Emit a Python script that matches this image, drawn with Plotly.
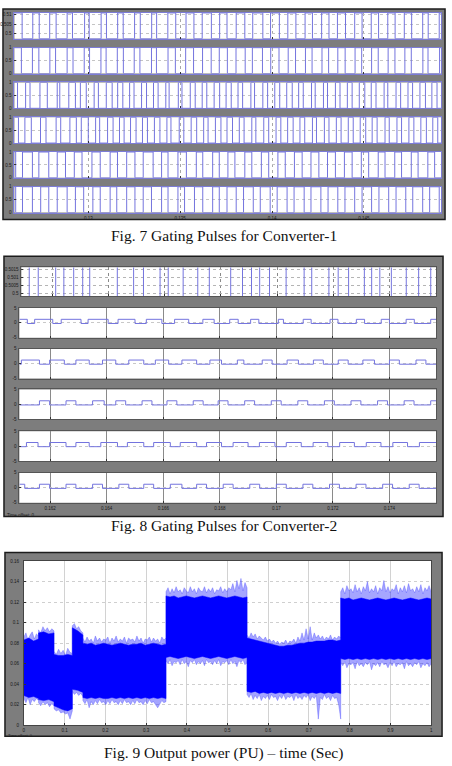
import plotly.graph_objects as go

W, H = 452, 766

# ---------------- Fig. 7 : switching-edge times (ms) of six gating signals ----------------
F7_CH1 = [126.40, 126.98, 127.33, 127.90, 128.25, 128.85, 129.14, 129.80, 130.05, 130.70,
          130.99, 131.60, 131.90, 132.52, 132.83, 133.45, 133.72, 134.33, 134.76, 135.32,
          135.75, 136.20, 136.70, 137.15, 137.55, 138.05, 138.52, 138.95, 139.50, 139.92,
          140.40, 140.86, 141.30, 141.80, 142.20, 142.70, 143.10, 143.56, 144.00, 144.50,
          144.90, 145.40, 145.80, 146.30, 146.70, 147.20, 147.60, 148.20, 148.50, 149.10]
F7_CH2 = [126.36, 126.96, 127.31, 127.91, 128.22, 128.85, 129.17, 129.78, 130.07, 130.69,
          130.97, 131.58, 131.91, 132.50, 132.81, 133.44, 133.71, 134.34, 134.74, 135.30,
          135.73, 136.22, 136.69, 137.13, 137.57, 138.04, 138.54, 138.93, 139.48, 139.93,
          140.38, 140.88, 141.28, 141.82, 142.18, 142.72, 143.08, 143.58, 143.98, 144.52,
          144.88, 145.42, 145.78, 146.32, 146.69, 147.23, 147.58, 148.21, 148.49, 149.12]
F7_CH3 = [126.15, 126.59, 126.83, 127.37, 127.77, 128.31, 128.45, 128.94, 129.30, 129.57,
          129.89, 130.32, 130.55, 130.98, 131.30, 131.60, 131.88, 132.25, 132.49, 132.90,
          133.17, 133.55, 133.80, 134.22, 134.40, 134.90, 135.10, 135.55, 135.82, 136.20,
          136.45, 136.85, 137.15, 137.50, 137.78, 138.15, 138.40, 138.85, 139.05, 139.50,
          139.76, 140.15, 140.42, 140.80, 141.10, 141.45, 141.70, 142.15, 142.35, 142.80,
          143.02, 143.45, 143.70, 144.10, 144.36, 144.75, 145.05, 145.40, 145.66, 146.10,
          146.30, 146.75, 147.00, 147.40, 147.65, 148.05, 148.35, 148.70, 148.98]
F7_CH4 = [126.20, 126.55, 126.90, 127.40, 127.70, 128.25, 128.50, 129.00, 129.35, 129.62,
          130.00, 130.40, 130.62, 131.05, 131.35, 131.70, 131.95, 132.30, 132.60, 132.95,
          133.22, 133.60, 133.90, 134.28, 134.50, 134.95, 135.20, 135.60, 135.90, 136.28,
          136.52, 136.92, 137.22, 137.55, 137.85, 138.22, 138.48, 138.90, 139.12, 139.55,
          139.82, 140.22, 140.48, 140.85, 141.15, 141.52, 141.78, 142.20, 142.42, 142.85,
          143.10, 143.50, 143.76, 144.15, 144.42, 144.80, 145.10, 145.45, 145.72, 146.15,
          146.38, 146.80, 147.05, 147.45, 147.72, 148.10, 148.40, 148.75, 149.02]
F7_CH5 = [126.05, 126.42, 126.96, 127.31, 127.85, 128.31, 128.76, 129.24, 129.66, 130.20,
          130.65, 131.19, 131.59, 132.09, 132.54, 132.99, 133.53, 133.99, 134.34, 134.88,
          135.34, 135.88, 136.23, 136.77, 137.13, 137.60, 137.98, 138.52, 138.90, 139.42,
          139.82, 140.32, 140.72, 141.22, 141.64, 142.12, 142.55, 143.02, 143.45, 143.94,
          144.36, 144.86, 145.26, 145.78, 146.15, 146.68, 147.05, 147.58, 147.95, 148.48, 148.85]
F7_CH6 = [126.05, 126.42, 126.96, 127.41, 127.85, 128.31, 128.85, 129.30, 129.75, 130.25,
          130.65, 131.19, 131.55, 132.09, 132.54, 132.99, 133.44, 133.99, 134.34, 134.88,
          135.24, 135.78, 136.23, 136.77, 137.13, 137.55, 138.05, 138.45, 138.98, 139.36,
          139.90, 140.28, 140.82, 141.20, 141.75, 142.12, 142.66, 143.05, 143.58, 143.97,
          144.50, 144.90, 145.42, 145.82, 146.35, 146.75, 147.28, 147.66, 148.20, 148.58, 149.10]
F7_XTICKS = [0.13, 0.135, 0.14, 0.145]
F7_XTICKTEXT = ["0.13", "0.135", "0.14", "0.145"]
F7_XRANGE = [0.12598, 0.14920]

# ---------------- Fig. 8 ----------------
F8_GLITCH_MS = [161.19, 161.51, 162.13, 162.42, 162.77, 163.09, 163.34, 164.32, 164.90, 165.25,
                165.84, 166.13, 166.66, 167.18, 167.59, 168.35, 168.77, 169.09, 169.38, 169.73,
                170.32, 170.96, 171.23, 171.84, 172.17, 172.54, 173.10, 173.36, 173.65, 174.06,
                174.59, 175.03, 175.46]
# (edges in ms; first level given by F8_START_HIGH)
F8_CH2 = [161.19, 161.45, 162.09, 162.39, 163.09, 163.34, 164.05, 164.40, 165.00, 165.40,
          165.95, 166.40, 166.90, 167.40, 167.80, 168.35, 168.65, 169.09, 169.38, 170.07,
          170.25, 170.95, 171.23, 171.90, 172.18, 172.83, 173.12, 173.71, 174.00, 174.59,
          174.88, 175.46]
F8_CH3 = [160.98, 161.62, 161.98, 162.50, 162.91, 163.38, 163.85, 164.32, 164.78, 165.31,
          165.72, 166.19, 166.66, 167.18, 167.65, 168.06, 168.62, 168.85, 169.50, 169.85,
          170.38, 170.78, 171.31, 171.66, 172.19, 172.54, 173.06, 173.47, 174.00, 174.35,
          174.94, 175.29]
F8_CH4 = [161.62, 161.98, 162.56, 162.91, 163.50, 163.91, 164.32, 164.67, 165.25, 165.60,
          166.13, 166.48, 167.06, 167.41, 167.94, 168.29, 168.88, 169.23, 169.82, 170.17,
          170.76, 171.11, 171.70, 172.05, 172.64, 172.99, 173.58, 173.93, 174.52, 174.87, 175.46]
F8_CH5 = [161.16, 161.57, 161.98, 162.56, 162.91, 163.38, 163.79, 164.38, 164.73, 165.31,
          165.66, 166.25, 166.60, 167.18, 167.53, 168.06, 168.47, 169.00, 169.40, 169.95,
          170.35, 170.88, 171.30, 171.82, 172.24, 172.76, 173.18, 173.70, 174.12, 174.64, 175.06]
F8_CH6 = [161.10, 161.62, 161.98, 162.56, 162.91, 163.50, 163.85, 164.43, 164.78, 165.31,
          165.66, 166.25, 166.66, 167.18, 167.53, 168.12, 168.47, 169.06, 169.41, 170.00,
          170.35, 170.94, 171.29, 171.88, 172.23, 172.82, 173.17, 173.76, 174.11, 174.70, 175.05]
F8_START_HIGH = [True, False, False, False, True]
F8_LEVELS = [-0.2, 1.2]
F8_XTICKS = [0.162, 0.164, 0.166, 0.168, 0.17, 0.172, 0.174]
F8_XTICKTEXT = ["0.162", "0.164", "0.166", "0.168", "0.17", "0.172", "0.174"]
F8_XRANGE = [0.16091, 0.17565]

# ---------------- Fig. 9 : output power band (segments) ----------------
F9_BREAKS = [0.0, 0.036, 0.074, 0.119, 0.145, 0.349, 0.548, 0.778, 1.0]
F9_OUTER_UP = [
    [0.086, 0.090, 0.083, 0.088, 0.091, 0.084, 0.089, 0.087],
    [0.093, 0.090, 0.096, 0.092, 0.095, 0.091, 0.094, 0.092],
    [0.072, 0.069, 0.074, 0.070, 0.073, 0.068, 0.075, 0.071, 0.070],
    [0.097, 0.099, 0.094, 0.096, 0.092, 0.090],
    [0.085, 0.081, 0.086, 0.082, 0.084, 0.080, 0.087, 0.082, 0.085, 0.081, 0.084, 0.083, 0.086, 0.080,
     0.085, 0.082, 0.087, 0.081, 0.084, 0.082, 0.086, 0.080, 0.085, 0.083, 0.084, 0.081, 0.087, 0.082,
     0.085, 0.080, 0.084, 0.083, 0.086, 0.081, 0.085, 0.082, 0.084, 0.080, 0.086, 0.083, 0.085],
    [0.130, 0.134, 0.128, 0.133, 0.129, 0.135, 0.130, 0.132, 0.128, 0.134, 0.131, 0.129, 0.135, 0.130,
     0.133, 0.128, 0.134, 0.131, 0.130, 0.135, 0.129, 0.133, 0.130, 0.134, 0.128, 0.132, 0.131, 0.135,
     0.129, 0.133, 0.130, 0.134, 0.132, 0.138, 0.130, 0.141, 0.133, 0.143, 0.131, 0.139, 0.134],
    [0.088, 0.085, 0.090, 0.086, 0.089, 0.084, 0.087, 0.085, 0.083, 0.086, 0.082, 0.084, 0.081, 0.083,
     0.080, 0.082, 0.079, 0.081, 0.080, 0.083, 0.079, 0.082, 0.081, 0.084, 0.080, 0.086, 0.082, 0.090,
     0.083, 0.094, 0.084, 0.096, 0.083, 0.090, 0.085, 0.088, 0.084, 0.087, 0.083, 0.086, 0.084, 0.088,
     0.083, 0.086, 0.084, 0.087, 0.085],
    [0.130, 0.134, 0.128, 0.136, 0.131, 0.133, 0.129, 0.137, 0.130, 0.134, 0.128, 0.135, 0.131, 0.140,
     0.129, 0.133, 0.130, 0.136, 0.128, 0.134, 0.131, 0.141, 0.130, 0.135, 0.129, 0.133, 0.131, 0.137,
     0.128, 0.134, 0.130, 0.136, 0.129, 0.138, 0.131, 0.133, 0.129, 0.135, 0.130, 0.137, 0.128, 0.134,
     0.131, 0.136, 0.130],
]
F9_OUTER_LO = [
    [0.026, 0.022, 0.027, 0.020, 0.025, 0.023, 0.026, 0.024],
    [0.022, 0.019, 0.023, 0.020, 0.022, 0.018, 0.021, 0.019],
    [0.016, 0.014, 0.015, 0.012, 0.013, 0.011, 0.012, 0.006, 0.014],
    [0.033, 0.030, 0.032, 0.029, 0.031, 0.028],
    [0.024, 0.021, 0.025, 0.017, 0.023, 0.020, 0.024, 0.021, 0.025, 0.022, 0.023, 0.020, 0.024, 0.021,
     0.025, 0.022, 0.023, 0.020, 0.024, 0.021, 0.025, 0.022, 0.023, 0.020, 0.024, 0.021, 0.025, 0.022,
     0.023, 0.020, 0.024, 0.021, 0.025, 0.022, 0.023, 0.020, 0.017, 0.021, 0.024, 0.022, 0.023],
    [0.063, 0.060, 0.064, 0.058, 0.062, 0.061, 0.063, 0.059, 0.064, 0.060, 0.062, 0.057, 0.063, 0.061,
     0.064, 0.059, 0.062, 0.060, 0.063, 0.058, 0.064, 0.061, 0.062, 0.059, 0.063, 0.060, 0.064, 0.058,
     0.062, 0.061, 0.063, 0.059, 0.064, 0.060, 0.062, 0.057, 0.063, 0.061, 0.064, 0.059, 0.062],
    [0.030, 0.027, 0.031, 0.025, 0.029, 0.026, 0.030, 0.024, 0.028, 0.026, 0.029, 0.025, 0.030, 0.027,
     0.028, 0.024, 0.029, 0.026, 0.030, 0.025, 0.028, 0.027, 0.029, 0.024, 0.030, 0.026, 0.028, 0.025,
     0.029, 0.027, 0.030, 0.024, 0.028, 0.026, 0.029, 0.006, 0.027, 0.025, 0.030, 0.026, 0.028, 0.024,
     0.029, 0.026, 0.027, 0.020, 0.006],
    [0.061, 0.058, 0.062, 0.056, 0.060, 0.059, 0.061, 0.055, 0.062, 0.058, 0.060, 0.057, 0.061, 0.059,
     0.062, 0.054, 0.060, 0.058, 0.061, 0.057, 0.062, 0.059, 0.060, 0.056, 0.061, 0.058, 0.062, 0.057,
     0.060, 0.059, 0.061, 0.055, 0.062, 0.058, 0.060, 0.057, 0.061, 0.059, 0.062, 0.056, 0.060, 0.058,
     0.061, 0.057, 0.060],
]
F9_CORE_UP = [
    [0.083, 0.085, 0.082, 0.084],
    [0.090, 0.091, 0.089, 0.090],
    [0.069, 0.068, 0.068, 0.069, 0.068],
    [0.095, 0.092, 0.088],
    [0.080, 0.079, 0.080, 0.078, 0.079, 0.080, 0.079, 0.078, 0.079, 0.080, 0.079, 0.078, 0.079, 0.079,
     0.080, 0.078, 0.079, 0.080, 0.079, 0.078, 0.079],
    [0.126, 0.125, 0.126, 0.124, 0.125, 0.126, 0.125, 0.124, 0.125, 0.126, 0.125, 0.124, 0.125, 0.126,
     0.125, 0.124, 0.125, 0.126, 0.125, 0.124, 0.125],
    [0.085, 0.084, 0.083, 0.082, 0.081, 0.080, 0.079, 0.078, 0.077, 0.077, 0.078, 0.078, 0.079, 0.080,
     0.080, 0.081, 0.081, 0.082, 0.082, 0.082, 0.083, 0.083, 0.082, 0.083],
    [0.124, 0.123, 0.124, 0.122, 0.123, 0.124, 0.123, 0.122, 0.123, 0.124, 0.123, 0.122, 0.123, 0.124,
     0.123, 0.122, 0.123, 0.124, 0.123, 0.122, 0.123, 0.124, 0.123],
]
F9_CORE_LO = [
    [0.029, 0.027, 0.028, 0.026],
    [0.025, 0.024, 0.025, 0.023],
    [0.019, 0.017, 0.015, 0.014, 0.016],
    [0.035, 0.034, 0.032],
    [0.027, 0.026, 0.027, 0.026, 0.027, 0.026, 0.026, 0.027, 0.026, 0.027, 0.026, 0.027, 0.026, 0.027,
     0.026, 0.027, 0.026, 0.027, 0.026, 0.027, 0.026],
    [0.066, 0.067, 0.066, 0.065, 0.066, 0.067, 0.066, 0.065, 0.066, 0.067, 0.066, 0.065, 0.066, 0.067,
     0.066, 0.065, 0.066, 0.067, 0.066, 0.065, 0.066],
    [0.033, 0.032, 0.033, 0.031, 0.032, 0.031, 0.032, 0.031, 0.032, 0.031, 0.032, 0.031, 0.032, 0.031,
     0.032, 0.031, 0.032, 0.031, 0.032, 0.031, 0.032, 0.031, 0.032, 0.031],
    [0.065, 0.064, 0.065, 0.064, 0.065, 0.064, 0.065, 0.064, 0.065, 0.064, 0.065, 0.064, 0.065, 0.064,
     0.065, 0.064, 0.065, 0.064, 0.065, 0.064, 0.065, 0.064, 0.065],
]
F9_XTICKS = [0, 0.1, 0.2, 0.3, 0.4, 0.5, 0.6, 0.7, 0.8, 0.9, 1]
F9_XTICKTEXT = ["0", "0.1", "0.2", "0.3", "0.4", "0.5", "0.6", "0.7", "0.8", "0.9", "1"]
F9_YTICKS = [0, 0.02, 0.04, 0.06, 0.08, 0.1, 0.12, 0.14, 0.16]
F9_YTICKTEXT = ["0", "0.02", "0.04", "0.06", "0.08", "0.1", "0.12", "0.14", "0.16"]

CAPTIONS = ["Fig. 7 Gating Pulses for Converter-1",
            "Fig. 8 Gating Pulses for Converter-2",
            "Fig. 9 Output power (PU) \u2013 time (Sec)"]

# ---------------- layout geometry (pixels) ----------------
def px(x):
    return x / W


def py(y):
    return 1 - y / H


F7_FRAME = (2, 7, 447, 219)
F8_FRAME = (3, 256, 445, 518)
F9_FRAME = (4, 554, 444, 739)
F7_ROWS = [(11, 37), (46, 72), (81, 107), (116, 142), (151, 177), (186, 212)]
F7_X = (13.5, 443)
F8_ROWS = [(267, 296), (308, 338), (349, 379), (390, 420), (432, 462), (474, 504)]
F8_X = (18.5, 438)
F9_BOX = (23, 562.7, 433, 728)

PULSE = "#7474de"
TICKFONT = dict(family="Arial", size=4.5, color="#1a1a1a")

fig = go.Figure()
layout = dict(width=W, height=H, margin=dict(l=0, r=0, t=0, b=0),
              paper_bgcolor="white", plot_bgcolor="white", showlegend=False)
shapes = []
annotations = []


def frame(box):
    x0, y0, x1, y1 = box
    shapes.append(dict(type="rect", xref="paper", yref="paper", x0=px(x0), x1=px(x1),
                       y0=py(y1), y1=py(y0), fillcolor="#7d7d7d",
                       line=dict(color="#1c1c1c", width=1.5), layer="below"))


def whitebox(x0, y0, x1, y1):
    shapes.append(dict(type="rect", xref="paper", yref="paper", x0=px(x0), x1=px(x1),
                       y0=py(y1), y1=py(y0), fillcolor="white",
                       line=dict(width=0), layer="below"))


def step_xy(edges_ms, x0, x1, lo, hi, start_high):
    lvl = start_high
    xs = [x0]
    ys = [hi if lvl else lo]
    for e in edges_ms:
        lvl = not lvl
        xs.append(e / 1000.0)
        ys.append(hi if lvl else lo)
    xs.append(x1)
    ys.append(ys[-1])
    return xs, ys


def add_axes(i, xd, yd, xr, yr, xticks, xtext, show_xlabels, yticks, ytext, linecolor,
             gridx="#9a9a9a", gridy="#b0b0b0", gdashx="dot", gdashy="dot", xstand=1, ystand=1):
    sfx = "" if i == 1 else str(i)
    layout["xaxis" + sfx] = dict(domain=[px(xd[0]), px(xd[1])], range=xr, anchor="y" + sfx,
                                 showline=True, mirror=True, linecolor=linecolor, linewidth=1,
                                 ticks="inside", ticklen=2, tickcolor="#333", tickwidth=0.6,
                                 tickvals=xticks, ticktext=xtext, showticklabels=show_xlabels,
                                 tickfont=TICKFONT, showgrid=True, gridcolor=gridx, gridwidth=0.7,
                                 griddash=gdashx, zeroline=False, fixedrange=True,
                                 ticklabelstandoff=xstand)
    layout["yaxis" + sfx] = dict(domain=[py(yd[1]), py(yd[0])], range=yr, anchor="x" + sfx,
                                 showline=True, mirror=True, linecolor=linecolor, linewidth=1,
                                 ticks="inside", ticklen=2, tickcolor="#333", tickwidth=0.6,
                                 tickvals=yticks, ticktext=ytext, tickfont=TICKFONT,
                                 showgrid=True, gridcolor=gridy, gridwidth=0.7, griddash=gdashy,
                                 zeroline=False, fixedrange=True, ticklabelstandoff=ystand)
    return ("x" + sfx, "y" + sfx)


# ---------------- Fig. 7 ----------------
frame(F7_FRAME)
f7_channels = [F7_CH1, F7_CH2, F7_CH3, F7_CH4, F7_CH5, F7_CH6]
ax_i = 0
for r, (edges, (t, b)) in enumerate(zip(f7_channels, F7_ROWS)):
    ax_i += 1
    whitebox(F7_X[0], t, F7_X[1], b)
    if r == 0:
        yt, ytt = [0.2, 0.55, 0.95], ["0.5", "0.505", "0.51"]
    else:
        yt, ytt = [0, 0.5, 1], ["0", "0.5", "1"]
    xa, ya = add_axes(ax_i, F7_X, (t, b), F7_XRANGE, [0, 1], F7_XTICKS, F7_XTICKTEXT,
                      r == 5, yt, ytt, "#7c7cd6", gridx="#a8a8a8", gridy="#c4c4c4")
    xs, ys = step_xy(edges, F7_XRANGE[0], F7_XRANGE[1], 0, 1, True)
    fig.add_trace(go.Scatter(x=xs, y=ys, mode="lines", xaxis=xa, yaxis=ya, hoverinfo="skip",
                             line=dict(shape="hv", color=PULSE, width=1)))

# ---------------- Fig. 8 ----------------
frame(F8_FRAME)
f8_channels = [None, F8_CH2, F8_CH3, F8_CH4, F8_CH5, F8_CH6]
for r, (edges, (t, b)) in enumerate(zip(f8_channels, F8_ROWS)):
    ax_i += 1
    x0 = 20.5 if r == 0 else F8_X[0]
    whitebox(x0, t, F8_X[1], b)
    if r == 0:
        xa, ya = add_axes(ax_i, (x0, F8_X[1]), (t, b), F8_XRANGE, [0, 1], F8_XTICKS, F8_XTICKTEXT,
                          False, [0.1, 0.37, 0.65, 0.93], ["0.5", "0.5005", "0.501", "0.5015"],
                          "#555", gridx="#8a8a8a", gridy="#b4b4b4")
        gx, gy = [], []
        for e in F8_GLITCH_MS:
            gx += [e / 1000.0, e / 1000.0, None]
            gy += [0, 1, None]
        fig.add_trace(go.Scatter(x=gx, y=gy, mode="lines", xaxis=xa, yaxis=ya, hoverinfo="skip",
                                 line=dict(color=PULSE, width=1)))
    else:
        xa, ya = add_axes(ax_i, (x0, F8_X[1]), (t, b), F8_XRANGE, [-5, 5], F8_XTICKS, F8_XTICKTEXT,
                          r == 5, [-5, 0, 5], ["-5", "0", "5"], "#555", gridx="#8a8a8a",
                          gridy="#c8c8c8", gdashx="solid")
        xs, ys = step_xy(edges, F8_XRANGE[0], F8_XRANGE[1], F8_LEVELS[0], F8_LEVELS[1],
                         F8_START_HIGH[r - 1])
        fig.add_trace(go.Scatter(x=xs, y=ys, mode="lines", xaxis=xa, yaxis=ya, hoverinfo="skip",
                                 line=dict(shape="hv", color=PULSE, width=1)))

annotations.append(dict(text="Time offset: 0", x=px(4), y=py(516.5), xref="paper", yref="paper",
                        xanchor="left", yanchor="middle", showarrow=False,
                        font=dict(family="Arial", size=4.5, color="#1a1a1a")))

# ---------------- Fig. 9 ----------------
frame(F9_FRAME)
ax_i += 1
whitebox(F9_BOX[0], F9_BOX[1], F9_BOX[2], F9_BOX[3])
xa, ya = add_axes(ax_i, (F9_BOX[0], F9_BOX[2]), (F9_BOX[1], F9_BOX[3]), [0, 1], [0, 0.16],
                  F9_XTICKS, F9_XTICKTEXT, True, F9_YTICKS, F9_YTICKTEXT, "#444",
                  gridx="#d2d2d2", gridy="#cfcfcf", gdashx="solid", gdashy="dot",
                  xstand=0, ystand=3)


def seg_poly(upper, lower):
    ux, uy, lx, ly = [], [], [], []
    for k in range(len(F9_BREAKS) - 1):
        a, b = F9_BREAKS[k], F9_BREAKS[k + 1]
        n = len(upper[k])
        ux += [a + (b - a) * j / (n - 1) for j in range(n)]
        uy += upper[k]
        m = len(lower[k])
        lx += [a + (b - a) * j / (m - 1) for j in range(m)]
        ly += lower[k]
    return ux + lx[::-1] + [ux[0]], uy + ly[::-1] + [uy[0]]


ox, oy = seg_poly(F9_OUTER_UP, F9_OUTER_LO)
fig.add_trace(go.Scatter(x=ox, y=oy, mode="lines", fill="toself", xaxis=xa, yaxis=ya,
                         fillcolor="rgba(40,40,255,0.42)", hoverinfo="skip",
                         line=dict(color="rgba(60,60,255,0.65)", width=0.5)))
cx, cy = seg_poly(F9_CORE_UP, F9_CORE_LO)
fig.add_trace(go.Scatter(x=cx, y=cy, mode="lines", fill="toself", xaxis=xa, yaxis=ya,
                         fillcolor="#0000ff", hoverinfo="skip", line=dict(color="#0000ff", width=0.5)))
annotations.append(dict(text="Time offset: 0", x=px(5), y=py(738), xref="paper", yref="paper",
                        xanchor="left", yanchor="middle", showarrow=False,
                        font=dict(family="Arial", size=4, color="#1a1a1a")))

# ---------------- captions ----------------
for cap, yy in zip(CAPTIONS, [235, 527, 756]):
    annotations.append(dict(text=cap, x=px(224), y=py(yy), xref="paper", yref="paper",
                            xanchor="center", yanchor="middle", showarrow=False,
                            font=dict(family="Liberation Serif", size=15.5, color="#111")))

layout["shapes"] = shapes
layout["annotations"] = annotations
fig.update_layout(**layout)
fig.write_html("out.html")
